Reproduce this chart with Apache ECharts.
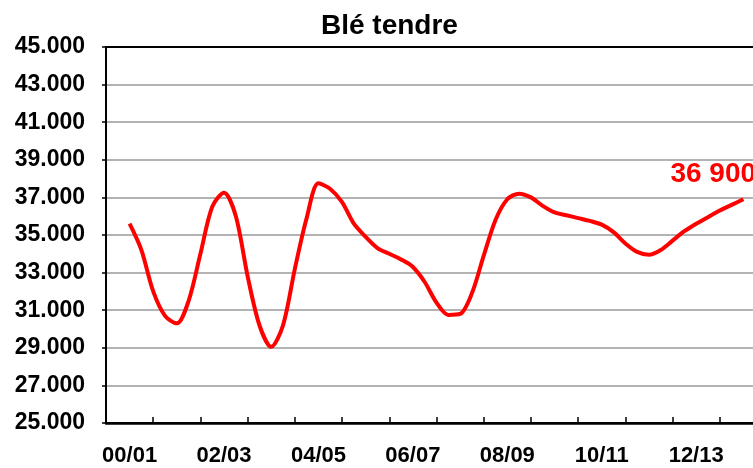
<!DOCTYPE html>
<html>
<head>
<meta charset="utf-8">
<script src="https://cdn.jsdelivr.net/npm/echarts@6/dist/echarts.min.js"></script>
<style>
  html, body { margin: 0; padding: 0; background: #fff; overflow: hidden; }
  /* le graphique d'origine est coupé à droite : zone plus large que la fenêtre */
  #main { width: 780px; height: 468px; }
</style>
</head>
<body>
<div id="main"></div>
<script>
// campagnes (axe des x)
const campagnes = ["00/01", "01/02", "02/03", "03/04", "04/05", "05/06", "06/07",
  "07/08", "08/09", "09/10", "10/11", "11/12", "12/13", "13/14"];

// valeurs trimestrielles, du début de 00/01 à 13/14
const valeurs = [
  35600, 34200, 32000, 30700, 30300, 31500, 34000, 36500,
  37250, 36000, 32800, 30200, 29050, 30200, 33200, 35900,
  37750, 37450, 36750, 35600, 34900, 34300, 34000, 33700,
  33300, 32500, 31400, 30750, 30800, 31900, 33900, 35800,
  36900, 37200, 37000, 36550, 36200, 36050, 35900, 35750,
  35550, 35150, 34550, 34100, 33950, 34200, 34700, 35200,
  35600, 35950, 36300, 36600, 36900
];

const yMin = 25000;
const yMax = 45000;
const yPas = 2000;

const police = 'Arial, "Liberation Sans", sans-serif';

const chart = echarts.init(document.getElementById("main"));

// position de chaque point : un trimestre = 1/4 de campagne
const points = valeurs.map((v, i) => [i / 4, v]);

function formatMilliers(v) {
  const s = String(Math.round(v));
  return s.slice(0, s.length - 3) + " " + s.slice(-3);
}

const option = {
  backgroundColor: "#fff",
  animation: false,
  title: {
    text: "Blé tendre",
    left: 316,
    top: 7,
    textStyle: { fontFamily: police, fontSize: 28, fontWeight: "bold", color: "#000" }
  },
  grid: {
    left: 106,
    top: 47,
    width: 661,
    height: 376,
    show: true,
    borderColor: "#000",
    borderWidth: 2,
    backgroundColor: "transparent"
  },
  xAxis: [
    {
      type: "category",
      data: campagnes,
      boundaryGap: true,
      axisLine: { show: true, onZero: false, lineStyle: { color: "#000", width: 2.5 } },
      axisTick: { show: true, interval: 0, inside: true, length: 6, lineStyle: { color: "#000", width: 1.5 } },
      axisLabel: {
        interval: 1,
        margin: 22,
        fontFamily: police,
        fontSize: 22,
        fontWeight: "bold",
        color: "#000"
      },
      splitLine: { show: false }
    },
    {
      type: "value",
      show: false,
      min: -0.5,
      max: 13.5,
      splitLine: { show: false }
    }
  ],
  yAxis: {
    type: "value",
    min: yMin,
    max: yMax,
    interval: yPas,
    axisLine: { show: true, onZero: false, lineStyle: { color: "#000", width: 2 } },
    axisTick: { show: true, length: 4, lineStyle: { color: "#000", width: 1.5 } },
    axisLabel: {
      margin: 21,
      fontFamily: police,
      fontSize: 23,
      fontWeight: "bold",
      color: "#000",
      formatter: (v) => (v / 1000).toFixed(0) + ".000"
    },
    splitLine: {
      show: true,
      showMinLine: false,
      showMaxLine: false,
      lineStyle: { color: "#9a9a9a", width: 1.5 }
    }
  },
  series: [
    {
      type: "line",
      xAxisIndex: 1,
      data: points,
      smooth: 0.3,
      showSymbol: false,
      symbol: "none",
      lineStyle: { color: "#ff0000", width: 4 },
      emphasis: { disabled: true },
      endLabel: {
        show: true,
        distance: 0,
        offset: [-73, -25],
        formatter: (d) => formatMilliers(d.value[1]),
        fontFamily: police,
        fontSize: 28,
        fontWeight: "bold",
        color: "#ff0000"
      },
      z: 5
    }
  ]
};

chart.setOption(option);
</script>
</body>
</html>
